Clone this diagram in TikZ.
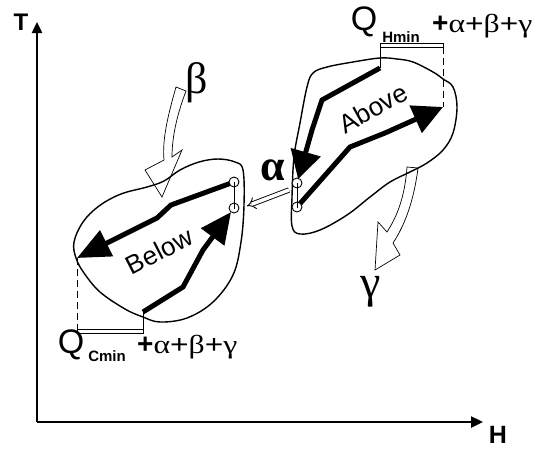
\documentclass[tikz,border=0pt]{standalone}
\usepackage{fontspec}
\setmainfont{Liberation Sans}
\newfontfamily\grk{Liberation Serif}
\usetikzlibrary{arrows.meta}
\newcommand\myplusabg{{\bfseries\fontsize{28}{28}\selectfont+}\scalebox{1.22}[1]{\fontsize{26}{26}\selectfont{\grk α}+{\grk β}+{\grk γ}}}
\begin{document}
\begin{tikzpicture}[x=1pt,y=-1pt,
  axis/.style={line width=2.4pt},
  blob/.style={line width=1.4pt, line join=round},
  flow/.style={line width=5pt, line join=miter},
  hollow/.style={line width=0.7pt, fill=white, line join=miter},
  port/.style={circle, draw, fill=white, inner sep=0pt, minimum size=10pt, line width=0.9pt},
  dashline/.style={line width=1pt, dash pattern=on 7pt off 4pt},
  bar/.style={line width=0.9pt, fill=white},
  lab/.style={inner sep=0pt}
]
\useasboundingbox (0,0) rectangle (537,450);
% axes
\coordinate (O) at (37,422);
\coordinate (Ttip) at (37,22);
\coordinate (Htip) at (483,422);
\draw[axis, -{Triangle[length=11pt,width=10pt]}] (O) -- (Ttip);
\draw[axis, -{Triangle[length=12pt,width=11pt]}] (O) -- (Htip);
\node[lab, font=\bfseries\fontsize{24}{24}\selectfont] (T) at (21,22) {T};
\node[lab, font=\bfseries\fontsize{25}{25}\selectfont] (H) at (498,435) {H};
% hollow arrows beta and gamma
\draw[hollow] (176,87) .. controls (168,115) and (162,140) .. (164,160) -- (145,170) -- (162,197) -- (182,150) -- (172,157) .. controls (172,135) and (178,112) .. (186,91) -- cycle;
\draw[hollow] (407,167) .. controls (405,195) and (398,215) .. (387,232) -- (378,222) -- (375,270) -- (400,255) -- (393,243) .. controls (405,225) and (414,200) .. (418,168) -- cycle;
% blobs
\draw[blob] plot[smooth cycle, tension=0.6] coordinates {(76,258) (74,242) (83,222) (99,206) (121,194) (147,187) (164,181) (180,170) (199,162) (218,159) (235,162) (243,170) (244,205) (241,242) (233,275) (213,302) (187,318) (160,322) (143,317) (125,309) (100,292) (84,273)};
\draw[blob] plot[smooth cycle, tension=0.6] coordinates {(307,87) (313,73) (327,67) (353,62) (380,58) (397,59) (413,62) (433,72) (443,79) (453,87) (457,107) (453,133) (443,150) (427,163) (410,172) (390,182) (370,197) (347,215) (320,230) (300,234) (292,226) (292,197) (294,157) (300,123)};
% key points
\coordinate (cl1) at (234,182);
\coordinate (cl2) at (234,208);
\coordinate (cr1) at (297,183);
\coordinate (cr2) at (297,207);
\coordinate (qcL) at (77,258);
\coordinate (qcR) at (143,312);
\coordinate (qhL) at (380,68);
\coordinate (qhR) at (443,107);
% flows
\draw[flow, -{Triangle[length=33pt,width=28pt]}] (cl1) -- (171,205) -- (157,218) -- (qcL);
\draw[flow, shorten >=5pt, -{Triangle[length=31pt,width=28pt]}] (qcR) -- (183,287) -- (203,250) -- (cl2);
\draw[flow, shorten >=4pt, -{Triangle[length=28pt,width=30pt]}] (qhL) -- (322,100) -- (312,130) -- (cr1);
\draw[flow, -{Triangle[length=30pt,width=29pt]}] (cr2) -- (350,147) -- (385,133) -- (qhR);
% ports
\node[port] (pl1) at (cl1) {};
\node[port] (pl2) at (cl2) {};
\node[port] (pr1) at (cr1) {};
\node[port] (pr2) at (cr2) {};
\draw[line width=0.8pt] ([yshift=5pt]pl1.south) -- ([yshift=-6pt]pl2.north);
\draw[line width=0.8pt] ([yshift=5pt]pr1.south) -- ([yshift=-6pt]pr2.north);
% brackets
\draw[dashline] (qcL) -- (77,330);
\draw[bar] (77,329) rectangle (143,333);
\draw[line width=1pt] (qcR) -- (143,333);
\draw[bar] (380,43) rectangle (443,47);
\draw[line width=1pt] (380,47) -- (qhL);
\draw[dashline] (443,47) -- (qhR);
% alpha arrow
\coordinate (aS) at (289,190);
\coordinate (aE) at (247,206);
\draw[line width=0.9pt, double, double distance=3.5pt, -{Implies}] (aS) -- (aE);
% labels
\node[lab, font=\grk\bfseries\fontsize{44}{44}\selectfont] (alpha) at (273,170) {α};
\node[lab, font=\grk\fontsize{44}{44}\selectfont] (beta) at (197,83) {β};
\node[lab, font=\grk\fontsize{46}{46}\selectfont] (gamma) at (371,292) {γ};
\node[lab, rotate=29, font=\fontsize{26}{26}\selectfont] (above) at (373,108) {Above};
\node[lab, rotate=27, font=\fontsize{26}{26}\selectfont] (below) at (159,251) {Below};
\node[lab, font=\fontsize{34}{34}\selectfont] (QH) at (364,22) {Q};
\node[lab, font=\bfseries\fontsize{15}{15}\selectfont] (Hmin) at (401,37) {Hmin};
\node[lab, anchor=west] (pH) at (432,26) {\myplusabg};
\node[lab, font=\fontsize{34}{34}\selectfont] (QC) at (71,345) {Q};
\node[lab, font=\bfseries\fontsize{15}{15}\selectfont] (Cmin) at (107,356) {Cmin};
\node[lab, anchor=west] (pC) at (137,347) {\myplusabg};
\end{tikzpicture}
\end{document}
